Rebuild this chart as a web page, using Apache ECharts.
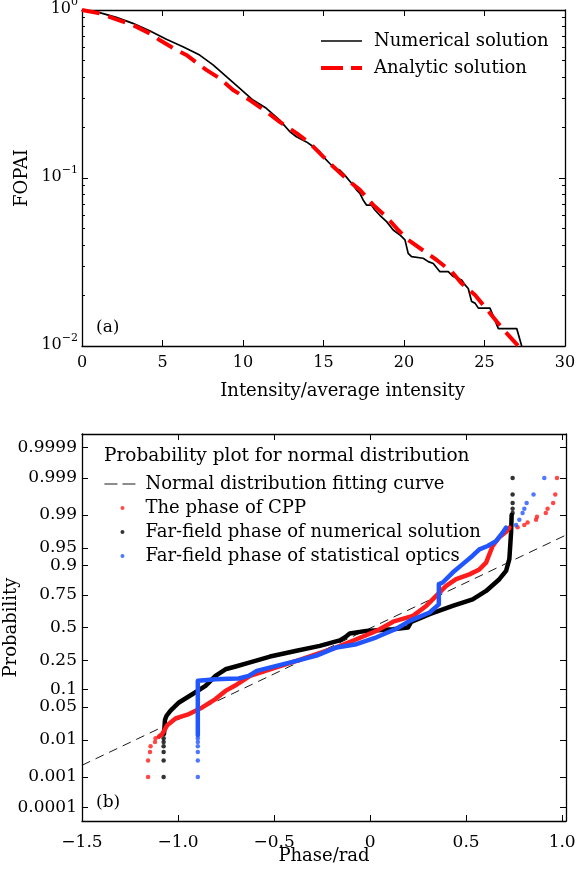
<!DOCTYPE html>
<html>
<head>
<meta charset="utf-8">
<script src="https://cdn.jsdelivr.net/npm/echarts@6/dist/echarts.min.js"></script>
<style>
html, body { margin: 0; padding: 0; background: #fff; }
#main { width: 578px; height: 874px; }
</style>
</head>
<body>
<div id="main"></div>
<script>
var SERIF = '"DejaVu Serif", serif';

// (a) FOPAI vs intensity/average intensity
var numIntensity = [0, 1.09, 2.13, 3.16, 4.20, 5.24, 6.27, 7.31, 8.14, 8.97, 9.80, 10.62, 11.45, 12.28, 12.90, 13.32, 13.94, 14.35, 14.77, 14.98, 15.39, 15.70, 16.01, 16.32, 16.74, 17.05, 17.26, 17.46, 17.67, 17.98, 18.19, 18.50, 18.92, 19.33, 19.75, 20.06, 20.26, 20.47, 21.19, 21.51, 21.82, 22.23, 22.75, 23.06, 23.58, 23.79, 23.99, 24.20, 24.41, 24.62, 25.34, 25.55, 25.86, 27.0, 27.31];
var numFopai = [1.0, 0.964, 0.904, 0.833, 0.753, 0.669, 0.605, 0.539, 0.471, 0.401, 0.342, 0.291, 0.26, 0.221, 0.189, 0.176, 0.164, 0.154, 0.1435, 0.134, 0.122, 0.114, 0.1115, 0.104, 0.093, 0.085, 0.081, 0.074, 0.069, 0.069, 0.0645, 0.060, 0.055, 0.049, 0.0458, 0.0428, 0.0356, 0.034, 0.0333, 0.0318, 0.031, 0.0277, 0.0277, 0.0259, 0.0247, 0.0231, 0.022, 0.0184, 0.018, 0.0168, 0.0168, 0.015, 0.0127, 0.0127, 0.01];
var anaIntensity = [0, 1.09, 2.13, 3.16, 4.20, 4.82, 5.86, 6.48, 7.72, 8.55, 9.38, 10.42, 11.46, 12.28, 13.32, 14.15, 14.98, 15.6, 16.64, 17.26, 18.09, 18.81, 19.64, 20.26, 21.3, 22.03, 22.96, 23.58, 24.41, 24.93, 25.76, 26.28, 27.1];
var anaFopai = [1.0, 0.955, 0.88, 0.814, 0.726, 0.663, 0.578, 0.54, 0.44, 0.392, 0.334, 0.291, 0.248, 0.216, 0.185, 0.161, 0.134, 0.117, 0.095, 0.085, 0.069, 0.06, 0.049, 0.0428, 0.0364, 0.0325, 0.0277, 0.0236, 0.0201, 0.0175, 0.014, 0.0122, 0.01];
var fopaiMinorTicks = [0.02, 0.03, 0.04, 0.05, 0.06, 0.07, 0.08, 0.09, 0.2, 0.3, 0.4, 0.5, 0.6, 0.7, 0.8, 0.9];

// (b) normal probability plot of phase
var probTicks = [0.0001, 0.001, 0.01, 0.05, 0.1, 0.25, 0.5, 0.75, 0.9, 0.95, 0.99, 0.999, 0.9999];
var phaseTicks = [-1.5, -1.0, -0.5, 0, 0.5, 1.0];

var fitPhase = [-1.5, 1.02];
var fitProb = [0.0022, 0.972];

var cppPhase = [-1.10, -1.082, -1.056, -1.013, -0.943, -0.874, -0.805, -0.753, -0.705, -0.625, -0.521, -0.383, -0.279, -0.175, -0.071, 0.033, 0.120, 0.223, 0.292, 0.344, 0.396, 0.448, 0.517, 0.569, 0.604, 0.621, 0.638, 0.673, 0.708, 0.725];
var cppProb = [0.012, 0.0139, 0.0217, 0.030, 0.0367, 0.0492, 0.0694, 0.095, 0.114, 0.1587, 0.194, 0.245, 0.2905, 0.34, 0.404, 0.472, 0.548, 0.595, 0.672, 0.743, 0.805, 0.841, 0.864, 0.885, 0.910, 0.935, 0.954, 0.969, 0.976, 0.9806];
var cppTailPhase = [-1.156, -1.156, -1.146, -1.143, -1.120, -1.117, 0.768, 0.803, 0.820, 0.864, 0.869, 0.915, 0.924, 0.953, 0.964, 0.973];
var cppTailProb = [0.001, 0.003, 0.005, 0.007, 0.009, 0.011, 0.981, 0.983, 0.985, 0.987, 0.989, 0.991, 0.993, 0.995, 0.997, 0.999];

var numPhase = [-1.073, -1.068, -1.060, -1.039, -0.995, -0.926, -0.857, -0.805, -0.753, -0.700, -0.625, -0.521, -0.383, -0.262, -0.158, -0.130, -0.106, -0.020, 0.119, 0.197, 0.214, 0.310, 0.430, 0.534, 0.604, 0.673, 0.708, 0.725, 0.734, 0.737];
var numProb = [0.0139, 0.028, 0.034, 0.0427, 0.0606, 0.0838, 0.1137, 0.1587, 0.194, 0.210, 0.235, 0.274, 0.315, 0.352, 0.395, 0.420, 0.450, 0.472, 0.486, 0.500, 0.546, 0.608, 0.672, 0.720, 0.775, 0.841, 0.879, 0.921, 0.975, 0.990];
var numTailPhase = [-1.075, -1.075, -1.075, -1.075, -1.075, -1.075, 0.742, 0.742, 0.742, 0.742, 0.742];
var numTailProb = [0.001, 0.003, 0.005, 0.007, 0.009, 0.011, 0.991, 0.993, 0.995, 0.997, 0.999];

var statPhase = [-0.897, -0.897, -0.848, -0.805, -0.736, -0.684, -0.632, -0.590, -0.487, -0.383, -0.279, -0.175, -0.071, 0.033, 0.137, 0.206, 0.310, 0.358, 0.358, 0.378, 0.430, 0.482, 0.534, 0.569, 0.612, 0.656, 0.690, 0.708];
var statProb = [0.013, 0.136, 0.139, 0.142, 0.145, 0.146, 0.159, 0.185, 0.214, 0.245, 0.280, 0.340, 0.365, 0.420, 0.490, 0.554, 0.622, 0.684, 0.815, 0.824, 0.872, 0.905, 0.931, 0.947, 0.954, 0.963, 0.975, 0.9806];
var statTailPhase = [-0.897, -0.897, -0.897, -0.897, -0.897, -0.897, 0.760, 0.777, 0.794, 0.803, 0.815, 0.851, 0.907];
var statTailProb = [0.001, 0.003, 0.005, 0.007, 0.009, 0.011, 0.983, 0.987, 0.991, 0.993, 0.995, 0.997, 0.999];

var RED = '#ff1c1c';
var BLUE = '#2156ff';

// inverse of the standard normal CDF (Acklam), used as the probability-paper scale
function probit(p) {
	var a = [-3.969683028665376e+01, 2.209460984245205e+02, -2.759285104469687e+02, 1.383577518672690e+02, -3.066479806614716e+01, 2.506628277459239e+00];
	var b = [-5.447609879822406e+01, 1.615858368580409e+02, -1.556989798598866e+02, 6.680131188771972e+01, -1.328068155288572e+01];
	var c = [-7.784894002430293e-03, -3.223964580411365e-01, -2.400758277161838e+00, -2.549732539343734e+00, 4.374664141464968e+00, 2.938163982698783e+00];
	var d = [7.784695709041462e-03, 3.224671290700398e-01, 2.445134137142996e+00, 3.754408661907416e+00];
	var q, r;
	if (p < 0.02425) {
		q = Math.sqrt(-2 * Math.log(p));
		return (((((c[0] * q + c[1]) * q + c[2]) * q + c[3]) * q + c[4]) * q + c[5]) / ((((d[0] * q + d[1]) * q + d[2]) * q + d[3]) * q + 1);
	}
	if (p > 1 - 0.02425) {
		q = Math.sqrt(-2 * Math.log(1 - p));
		return -(((((c[0] * q + c[1]) * q + c[2]) * q + c[3]) * q + c[4]) * q + c[5]) / ((((d[0] * q + d[1]) * q + d[2]) * q + d[3]) * q + 1);
	}
	q = p - 0.5;
	r = q * q;
	return (((((a[0] * r + a[1]) * r + a[2]) * r + a[3]) * r + a[4]) * r + a[5]) * q / (((((b[0] * r + b[1]) * r + b[2]) * r + b[3]) * r + b[4]) * r + 1);
}

function pairs(xs, ys) {
	return xs.map(function(x, i) { return [x, ys[i]]; });
}
function probPairs(xs, ps) {
	return xs.map(function(x, i) { return [x, probit(ps[i])]; });
}

var probTickZ = probTicks.map(probit);
var fopaiMinorLog = fopaiMinorTicks.map(function(v) { return Math.log10(v); });

function probLabel(v) {
	var best = 0;
	for (var i = 1; i < probTickZ.length; i++) {
		if (Math.abs(probTickZ[i] - v) < Math.abs(probTickZ[best] - v)) best = i;
	}
	return String(probTicks[best]);
}

function phaseLabel(v) {
	if (Math.abs(v) < 1e-9) return '0';
	return (v < 0 ? '\u2212' : '') + Math.abs(v).toFixed(1);
}

function logLabel(v) {
	var e = Math.round(Math.log10(v));
	return '{b|10}{s|' + (e < 0 ? '\u2212' + (-e) : e) + '}';
}

var axisLineStyle = { show: true, onZero: false, lineStyle: { color: '#000', width: 1.3 } };
var tickStyle = { show: true, inside: true, length: 6, lineStyle: { color: '#000', width: 1 } };
var hideLine = { show: false, onZero: false };
var minorTickStyle = { show: true, inside: true, length: 3, customValues: fopaiMinorLog, lineStyle: { color: '#000', width: 1 } };
var noLegendDot = { opacity: 0 };

var chart = echarts.init(document.getElementById('main'));

var option = {
	animation: false,
	backgroundColor: '#fff',
	textStyle: { fontFamily: SERIF },
	title: {
		text: 'Probability plot for normal distribution',
		left: 104,
		top: 447,
		padding: 0,
		textStyle: { fontFamily: SERIF, fontSize: 18.5, fontWeight: 'normal', color: '#000' }
	},
	grid: [
		{ left: 82, top: 10, right: 13, bottom: 528, outerBoundsMode: 'none' },
		{ left: 82, top: 434, right: 12, bottom: 53, outerBoundsMode: 'none' }
	],
	legend: [{
		orient: 'vertical',
		left: 319,
		top: 32,
		padding: 0,
		itemWidth: 41,
		itemHeight: 10,
		itemGap: 9,
		textStyle: { fontFamily: SERIF, fontSize: 18, color: '#000', padding: [0, 0, 0, 7] },
		lineStyle: { width: 'inherit' },
		data: [
			{ name: 'Numerical solution', itemStyle: noLegendDot },
			{ name: 'Analytic solution', itemStyle: noLegendDot, lineStyle: { type: [22, 8] } }
		]
	}, {
		orient: 'vertical',
		left: 104,
		top: 475,
		padding: 0,
		itemWidth: 36,
		itemHeight: 4,
		itemGap: 6,
		textStyle: { fontFamily: SERIF, fontSize: 18, color: '#000' },
		lineStyle: { width: 'inherit' },
		data: [
			{ name: 'Normal distribution fitting curve', itemStyle: noLegendDot, lineStyle: { type: [13, 5] } },
			{ name: 'The phase of CPP', icon: 'circle' },
			{ name: 'Far-field phase of numerical solution', icon: 'circle' },
			{ name: 'Far-field phase of statistical optics', icon: 'circle' }
		]
	}],
	xAxis: [{
		gridIndex: 0,
		type: 'value',
		min: 0,
		max: 30,
		interval: 5,
		position: 'bottom',
		name: 'Intensity/average intensity',
		nameLocation: 'middle',
		nameGap: 36,
		nameMoveOverlap: false,
		nameTextStyle: { fontFamily: SERIF, fontSize: 18, color: '#000', padding: [0, 0, 0, 38] },
		axisLine: axisLineStyle,
		axisTick: tickStyle,
		axisLabel: { fontFamily: SERIF, fontSize: 16, color: '#000', margin: 9 },
		splitLine: { show: false }
	}, {
		gridIndex: 0,
		type: 'value',
		min: 0,
		max: 30,
		interval: 5,
		position: 'top',
		axisLine: axisLineStyle,
		axisTick: tickStyle,
		axisLabel: { show: false },
		splitLine: { show: false }
	}, {
		gridIndex: 1,
		type: 'value',
		min: -1.5,
		max: 1.02,
		position: 'bottom',
		name: 'Phase/rad',
		nameLocation: 'middle',
		nameGap: 26,
		nameMoveOverlap: false,
		nameTextStyle: { fontFamily: SERIF, fontSize: 18, color: '#000' },
		axisLine: axisLineStyle,
		axisTick: Object.assign({}, tickStyle, { customValues: phaseTicks }),
		axisLabel: { fontFamily: SERIF, fontSize: 17, color: '#000', margin: 13, customValues: phaseTicks, formatter: phaseLabel },
		splitLine: { show: false }
	}, {
		gridIndex: 1,
		type: 'value',
		min: -1.5,
		max: 1.02,
		position: 'top',
		axisLine: axisLineStyle,
		axisTick: Object.assign({}, tickStyle, { customValues: phaseTicks }),
		axisLabel: { show: false },
		splitLine: { show: false }
	}],
	yAxis: [{
		gridIndex: 0,
		type: 'log',
		logBase: 10,
		min: 0.01,
		max: 1,
		position: 'left',
		name: 'FOPAI',
		nameLocation: 'middle',
		nameGap: 51,
		nameMoveOverlap: false,
		nameTextStyle: { fontFamily: SERIF, fontSize: 18, color: '#000' },
		axisLine: axisLineStyle,
		axisTick: tickStyle,
		axisLabel: {
			color: '#000',
			margin: 4,
			formatter: logLabel,
			padding: [0, 0, 6, 0],
			rich: {
				b: { fontFamily: SERIF, fontSize: 16, lineHeight: 20, verticalAlign: 'bottom', color: '#000' },
				s: { fontFamily: SERIF, fontSize: 11, lineHeight: 11, verticalAlign: 'top', color: '#000' }
			}
		},
		splitLine: { show: false }
	}, {
		gridIndex: 0,
		type: 'log',
		logBase: 10,
		min: 0.01,
		max: 1,
		position: 'right',
		axisLine: axisLineStyle,
		axisTick: tickStyle,
		axisLabel: { show: false },
		splitLine: { show: false }
	}, {
		gridIndex: 1,
		type: 'value',
		min: -4,
		max: 4,
		position: 'left',
		name: 'Probability',
		nameLocation: 'middle',
		nameGap: 62,
		nameMoveOverlap: false,
		nameTextStyle: { fontFamily: SERIF, fontSize: 18, color: '#000' },
		axisLine: axisLineStyle,
		axisTick: Object.assign({}, tickStyle, { customValues: probTickZ }),
		axisLabel: { fontFamily: SERIF, fontSize: 17, color: '#000', margin: 5, customValues: probTickZ, formatter: probLabel },
		splitLine: { show: false }
	}, {
		gridIndex: 1,
		type: 'value',
		min: -4,
		max: 4,
		position: 'right',
		axisLine: axisLineStyle,
		axisTick: Object.assign({}, tickStyle, { customValues: probTickZ }),
		axisLabel: { show: false },
		splitLine: { show: false }
	}, {
		// minor ticks of the FOPAI decades (log10 units)
		gridIndex: 0,
		type: 'value',
		min: -2,
		max: 0,
		position: 'left',
		axisLine: hideLine,
		axisTick: minorTickStyle,
		axisLabel: { show: false },
		splitLine: { show: false }
	}, {
		gridIndex: 0,
		type: 'value',
		min: -2,
		max: 0,
		position: 'right',
		axisLine: hideLine,
		axisTick: minorTickStyle,
		axisLabel: { show: false },
		splitLine: { show: false }
	}],
	graphic: [
		{ type: 'text', left: 96, top: 319, style: { text: '(a)', font: '17px "DejaVu Serif"', fill: '#000' } },
		{ type: 'text', left: 96, top: 794, style: { text: '(b)', font: '17px "DejaVu Serif"', fill: '#000' } }
	],
	series: [{
		name: 'Numerical solution',
		type: 'line',
		xAxisIndex: 0,
		yAxisIndex: 0,
		symbol: 'none',
		lineStyle: { color: '#000', width: 1.7 },
		itemStyle: { color: '#000' },
		data: pairs(numIntensity, numFopai)
	}, {
		name: 'Analytic solution',
		type: 'line',
		xAxisIndex: 0,
		yAxisIndex: 0,
		symbol: 'none',
		lineStyle: { color: '#ff0000', width: 4, type: [18, 9] },
		itemStyle: { color: '#ff0000' },
		data: pairs(anaIntensity, anaFopai)
	}, {
		name: 'The phase of CPP',
		type: 'scatter',
		xAxisIndex: 2,
		yAxisIndex: 2,
		symbolSize: 4.5,
		itemStyle: { color: RED },
		data: probPairs(cppTailPhase, cppTailProb)
	}, {
		name: 'Far-field phase of numerical solution',
		type: 'scatter',
		xAxisIndex: 2,
		yAxisIndex: 2,
		symbolSize: 4.5,
		itemStyle: { color: '#000' },
		data: probPairs(numTailPhase, numTailProb)
	}, {
		name: 'Far-field phase of statistical optics',
		type: 'scatter',
		xAxisIndex: 2,
		yAxisIndex: 2,
		symbolSize: 4.5,
		itemStyle: { color: BLUE },
		data: probPairs(statTailPhase, statTailProb)
	}, {
		name: 'Normal distribution fitting curve',
		type: 'line',
		xAxisIndex: 2,
		yAxisIndex: 2,
		symbol: 'none',
		lineStyle: { color: '#000', width: 0.9, type: [9, 6] },
		itemStyle: { color: '#000' },
		data: probPairs(fitPhase, fitProb)
	}, {
		name: 'Far-field phase of numerical solution',
		type: 'line',
		xAxisIndex: 2,
		yAxisIndex: 2,
		symbol: 'none',
		lineStyle: { color: '#000', width: 4.5, cap: 'round', join: 'round' },
		data: probPairs(numPhase, numProb)
	}, {
		name: 'The phase of CPP',
		type: 'line',
		xAxisIndex: 2,
		yAxisIndex: 2,
		symbol: 'none',
		lineStyle: { color: RED, width: 4.5, cap: 'round', join: 'round' },
		data: probPairs(cppPhase, cppProb)
	}, {
		name: 'Far-field phase of statistical optics',
		type: 'line',
		xAxisIndex: 2,
		yAxisIndex: 2,
		symbol: 'none',
		lineStyle: { color: BLUE, width: 4.5, cap: 'round', join: 'round' },
		data: probPairs(statPhase, statProb)
	}]
};

chart.setOption(option);
</script>
</body>
</html>
